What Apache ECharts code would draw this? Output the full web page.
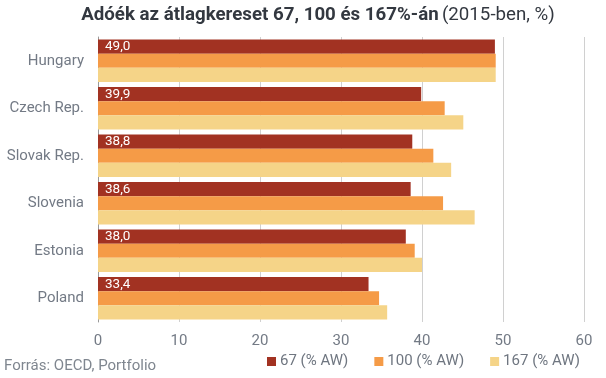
<!DOCTYPE html>
<html><head><meta charset="utf-8">
<script src="https://cdn.jsdelivr.net/npm/echarts@6/dist/echarts.min.js"></script>
<style>html,body{margin:0;padding:0;background:#fff}#c{width:606px;height:378px}</style>
</head><body><div id="c"></div>
<script>
const categories = ['Hungary','Czech Rep.','Slovak Rep.','Slovenia','Estonia','Poland'];
const s67 = [49.0, 39.9, 38.8, 38.6, 38.0, 33.4];
const s100 = [49.1, 42.8, 41.4, 42.6, 39.1, 34.7];
const s167 = [49.1, 45.1, 43.6, 46.5, 40.0, 35.7];
const seriesNames = ['67 (% AW)','100 (% AW)','167 (% AW)'];
const xTicks = [0,10,20,30,40,50,60];

const chart = echarts.init(document.getElementById('c'), null, {renderer:'canvas'});
const F = 'Roboto, sans-serif';
const labelGrey = '#737a85';
chart.setOption({
  animation:false,
  textStyle:{fontFamily:F},
  grid:{left:98, right:22, top:37, bottom:56, containLabel:false},
  legend:{
    data:seriesNames, left:267, top:354, padding:0, icon:'rect', itemWidth:9, itemHeight:9, itemGap:26,
    textStyle:{fontFamily:F,fontSize:15,color:'#6f7680',padding:[0,0,0,-1]}
  },
  graphic:[
    {type:'text', x:318, y:15, style:{
      text:'{b|Adóék az átlagkereset 67, 100 és 167%-án} {n|(2015-ben, %)}',
      align:'center', verticalAlign:'middle',
      rich:{
        b:{fontFamily:F,fontWeight:'bold',fontSize:18.7,fill:'#333840'},
        n:{fontFamily:F,fontWeight:'normal',fontSize:18.7,fill:'#333840'}
      }}},
    {type:'text', x:4, y:366, style:{text:'Forrás: OECD, Portfolio', font:'15px Roboto, sans-serif', fill:'#7f868f', verticalAlign:'middle'}}
  ],
  xAxis:{type:'value', min:0, max:60, interval:10,
    axisLine:{show:false}, axisTick:{show:false},
    axisLabel:{color:labelGrey,fontSize:15,margin:12,fontFamily:F, formatter:v=>xTicks.includes(v)?String(v):''},
    splitLine:{lineStyle:{color:'#d0d0d0'}}},
  yAxis:{type:'category', data:categories, inverse:true,
    axisLine:{lineStyle:{color:'#9a9a9a'}}, axisTick:{show:false},
    axisLabel:{color:labelGrey,fontSize:15,margin:14,fontFamily:F}},
  series:[
    {name:seriesNames[0], type:'bar', data:s67, barGap:'0%', barCategoryGap:'11%',
     itemStyle:{color:'#A23222'},
     label:{show:true, position:'insideLeft', offset:[2,0], color:'#fff', fontSize:13.5, fontFamily:F,
       formatter:p=>p.value.toFixed(1).replace('.',',')}},
    {name:seriesNames[1], type:'bar', data:s100, barGap:'0%', barCategoryGap:'11%', itemStyle:{color:'#F59B47'}},
    {name:seriesNames[2], type:'bar', data:s167, barGap:'0%', barCategoryGap:'11%', itemStyle:{color:'#F5D488'}}
  ]
});
</script></body></html>
